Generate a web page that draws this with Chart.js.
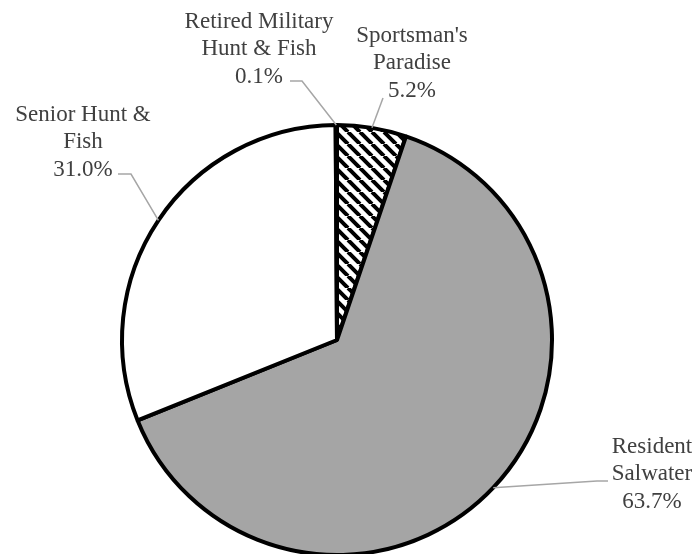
<!DOCTYPE html>
<html>
<head>
<meta charset="utf-8">
<script src="https://cdn.jsdelivr.net/npm/chart.js@4/dist/chart.umd.min.js"></script>
<style>
  html, body { margin: 0; padding: 0; background: #fff; }
  canvas { display: block; }
</style>
</head>
<body>
<canvas id="theChart" width="696" height="554"></canvas>
<script>
// licence types, clockwise from 12 o'clock
const categories = [
  ["Sportsman's", "Paradise"],
  ["Resident", "Salwater"],
  ["Senior Hunt &", "Fish"],
  ["Retired Military", "Hunt & Fish"]
]
const shares = [5.2, 63.7, 31.0, 0.1]

// where each label sits: text centre, first baseline, leader start (+ elbow)
const labelSpots = [
  { cx: 412, y: 42, from: [383, 98] },
  { cx: 652, y: 453, from: [608, 481], elbow: [597, 481] },
  { cx: 83, y: 121, from: [118, 174], elbow: [131, 174] },
  { cx: 259, y: 28, from: [290, 81], elbow: [302, 81] }
]

const labelFont = "23px 'Liberation Serif', 'Times New Roman', serif"

// black "\" hatching for the small slice
function hatch() {
  const s = 12
  const c = document.createElement("canvas")
  c.width = s
  c.height = s
  const g = c.getContext("2d")
  g.fillStyle = "#fff"
  g.fillRect(0, 0, s, s)
  g.strokeStyle = "#000"
  g.lineWidth = 4
  g.beginPath()
  for (let k = -1; k <= 1; k++) {
    g.moveTo(k * s, 0)
    g.lineTo(k * s + s, s)
  }
  g.stroke()
  return g.createPattern(c, "repeat")
}

const pieLabels = {
  id: "pieLabels",
  afterDraw(chart) {
    const c = chart.ctx
    const arcs = chart.getDatasetMeta(0).data
    c.save()
    arcs.forEach((arc, i) => {
      const spot = labelSpots[i]
      const mid = (arc.startAngle + arc.endAngle) / 2
      const ex = arc.x + Math.cos(mid) * arc.outerRadius
      const ey = arc.y + Math.sin(mid) * arc.outerRadius

      c.strokeStyle = "#a6a6a6"
      c.lineWidth = 1.5
      c.beginPath()
      c.moveTo(spot.from[0], spot.from[1])
      if (spot.elbow) c.lineTo(spot.elbow[0], spot.elbow[1])
      c.lineTo(ex, ey)
      c.stroke()

      const lines = categories[i].concat([shares[i].toFixed(1) + "%"])
      c.fillStyle = "#404040"
      c.font = labelFont
      c.textAlign = "center"
      c.textBaseline = "alphabetic"
      lines.forEach((t, j) => c.fillText(t, spot.cx, spot.y + j * 27.3))
    })
    c.restore()
  }
}

const ctx = document.getElementById("theChart")
new Chart(ctx, {
  type: "pie",
  data: {
    labels: categories,
    datasets: [{
      data: shares,
      backgroundColor: [hatch(), "#a5a5a5", "#ffffff", "#ffffff"],
      borderColor: "#000",
      borderWidth: 4,
      clip: false
    }]
  },
  options: {
    responsive: false,
    animation: false,
    radius: 215,
    layout: { padding: { left: 0, right: 22, top: 126, bottom: 0 } },
    plugins: {
      legend: { display: false },
      tooltip: { enabled: false }
    }
  },
  plugins: [pieLabels]
})
</script>
</body>
</html>
